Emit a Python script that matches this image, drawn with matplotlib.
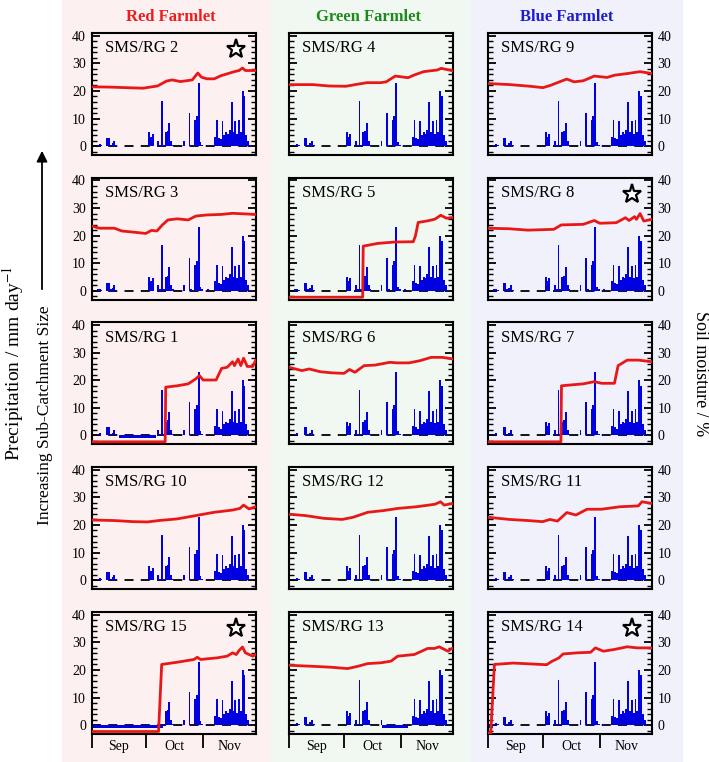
import matplotlib
matplotlib.use('Agg')
import matplotlib.pyplot as plt
from matplotlib.patches import Rectangle, FancyArrowPatch
from matplotlib.ticker import MultipleLocator, FixedLocator, NullFormatter, FixedFormatter

plt.rcParams['font.family'] = 'serif'
plt.rcParams['font.serif'] = ['Liberation Serif', 'DejaVu Serif']
plt.rcParams['mathtext.fontset'] = 'stix'

# farmlet columns
farmlets = ['Red Farmlet', 'Green Farmlet', 'Blue Farmlet']
farmlet_colors = ['#ee1c1c', '#1e8a1e', '#1c1cd0']
bg_colors = ['#fdf0f0', '#f1f8f1', '#f1f1fc']

# panel layout (rows top -> bottom, columns red/green/blue)
grid = [[2, 4, 9], [3, 5, 8], [1, 6, 7], [10, 12, 11], [15, 13, 14]]
starred = [2, 8, 15, 14]

month_labels = ['Sep', 'Oct', 'Nov']
month_starts = [0, 30, 61]
month_mids = [15, 45.5, 75.5]

# daily precipitation (mm/day), day 0 = 1 Sep
rain = [0, 0, 0, 0.5, 0.8, 0.3, 0, 0, 3, 3,
        0.5, 1, 2, 0.3, 0, 0, 0, 0, 0, 0,
        0, 0, 0, 0, 0, 0, 0, 0, 0, 0,
        0, 5, 3.5, 4.5, 0, 0, 2, 0.5, 16.5, 0.5,
        5, 5.5, 8.5, 2, 0.5, 0, 0, 0, 0, 0,
        2, 0, 0, 12, 0.5, 0, 9.5, 11, 23, 1.5,
        0.5, 0, 0, 0.5, 0, 0, 0, 3.5, 9.5, 3,
        2.5, 9, 4, 5, 4.5, 6, 16, 5, 9, 4.5,
        9.5, 5, 20, 18, 4, 2, 0.3, 0, 0, 6]

# days with missing rain gauge record (drawn as -1)
rain_gaps = {1: (15, 35), 13: (51, 65), 14: (0, 3), 15: (0, 39)}

# soil moisture (%) as (day, value) vertices
sm_rg2 = [(0, 21.5), (10, 21.4), (19, 21.2), (28, 21.0), (36, 21.8), (41, 23.6), (44, 24.0),
          (48.5, 23.4), (55, 24.0), (58, 26.5), (60, 25.0), (63, 24.4), (67, 24.4), (70.5, 25.5),
          (74, 26.2), (78, 27.0), (80.5, 27.4), (82.4, 28.3), (84, 27.4), (89.5, 27.4)]
sm_rg4 = [(0, 22.3), (13, 22.3), (22, 21.8), (31, 21.7), (37, 22.4), (42.5, 23.0), (50, 23.0),
          (53, 23.3), (58, 25.4), (65, 24.8), (68, 25.7), (73.5, 27.0), (81, 27.6), (83, 28.2),
          (89.5, 27.3)]
sm_rg9 = [(0, 22.7), (12, 22.3), (23, 21.7), (30, 21.2), (34, 22.0), (39, 23.3), (43, 24.3),
          (47, 23.3), (52, 23.7), (58, 25.4), (65, 24.9), (69, 25.7), (76, 26.3), (83, 27.0),
          (89.5, 26.3)]
sm_rg3 = [(0, 23.5), (4.4, 22.7), (12.5, 22.7), (16.5, 21.7), (22.6, 21.3), (29.6, 20.8),
          (32.7, 21.9), (35.7, 21.7), (38.7, 23.9), (41.7, 25.7), (46.8, 26.1), (52.8, 25.7),
          (56.9, 27.1), (62.9, 27.5), (71, 27.7), (77, 28.1), (89.5, 27.7)]
sm_rg5 = [(0, -2.3), (40.2, -2.3), (40.5, 16.2), (48.5, 17.2), (57.7, 17.7), (67.8, 17.8),
          (69, 19.9), (70.5, 24.8), (76, 25.4), (79.7, 26.0), (82.8, 27.4), (86, 26.3), (89.5, 26.6)]
sm_rg8 = [(0, 22.7), (11.7, 22.5), (21.8, 22.0), (35.9, 22.3), (40, 23.9), (52, 24.1), (58, 25.5),
          (61, 24.5), (70, 24.7), (75, 26.5), (77, 25.5), (80, 26.9), (81, 25.9), (83, 28.0),
          (85, 25.3), (89.5, 25.9)]
sm_rg1 = [(0, -2.3), (40.2, -2.3), (40.5, 17.5), (46.8, 18.0), (52.8, 18.7), (56.9, 20.5),
          (58.9, 21.7), (60.9, 20.1), (68, 20.1), (71, 24.3), (74, 24.7), (77, 26.7), (78, 25.3),
          (80, 27.7), (81.5, 25.3), (83, 28.0), (85, 25.0), (88, 25.0), (89.5, 27.1)]
sm_rg6 = [(0, 24.7), (7, 23.5), (11, 24.1), (17, 23.1), (23, 22.7), (30, 22.5), (33, 23.9),
          (36, 22.9), (41, 25.3), (47, 25.5), (55, 26.5), (59, 26.3), (65.5, 26.3), (71.5, 27.1),
          (77.6, 28.3), (83.7, 28.3), (89.5, 27.7)]
sm_rg7 = [(0, -2.3), (39.8, -2.3), (40.1, 18.0), (52, 18.7), (58, 19.5), (62, 18.9), (69, 18.9),
          (71, 25.3), (76, 27.3), (82, 27.3), (89.5, 26.7)]
sm_rg10 = [(0, 21.8), (12.5, 21.6), (22.6, 21.2), (30.6, 21.1), (36.7, 21.6), (46.8, 22.2),
           (56.9, 23.4), (67, 24.6), (77, 25.4), (81, 26.0), (83, 27.2), (86, 25.8), (89.5, 26.6)]
sm_rg12 = [(0, 23.9), (9, 23.4), (19, 22.4), (29, 22.0), (35, 22.8), (43, 24.6), (51.4, 25.2),
           (59.5, 26.0), (69.6, 26.6), (79.6, 27.5), (82.7, 28.4), (84.7, 27.2), (89.5, 27.8)]
sm_rg11 = [(0, 22.8), (11.7, 22.0), (21.8, 21.6), (29.8, 21.2), (33.9, 22.0), (37.9, 21.4),
           (43, 24.5), (48, 23.6), (54, 25.7), (62, 25.7), (72, 26.6), (82, 26.9), (84, 28.4),
           (89.5, 27.8)]
sm_rg15 = [(0, -2.3), (36.6, -2.3), (38.3, 22.0), (46.7, 22.8), (55.9, 23.8), (57.7, 24.6),
           (59.5, 23.8), (68.7, 24.4), (74, 25.0), (77, 26.2), (79, 25.6), (80.6, 27.1),
           (82.4, 28.3), (84, 26.2), (88, 25.0), (89.5, 25.6)]
sm_rg13 = [(0, 21.7), (13.7, 21.3), (22.8, 21.0), (32, 20.5), (37.4, 21.3), (42.9, 22.3),
           (50.2, 22.6), (55.7, 23.2), (59.3, 25.0), (68.4, 25.6), (75.7, 27.8), (79.4, 27.8),
           (82, 28.4), (86.7, 26.8), (89.5, 28.0)]
sm_rg14 = [(0, -2.8), (1.5, -2.8), (3.5, 22.0), (13.7, 22.5), (22.9, 22.2), (32, 21.9),
           (34.8, 23.1), (38.5, 24.3), (41, 25.8), (48.5, 26.2), (56, 26.4), (58.6, 28.0),
           (63, 26.8), (68.7, 27.4), (76, 28.4), (81.5, 28.0), (89.5, 28.0)]

soil = {1: sm_rg1, 2: sm_rg2, 3: sm_rg3, 4: sm_rg4, 5: sm_rg5, 6: sm_rg6, 7: sm_rg7, 8: sm_rg8,
        9: sm_rg9, 10: sm_rg10, 11: sm_rg11, 12: sm_rg12, 13: sm_rg13, 14: sm_rg14, 15: sm_rg15}

W, H = 709, 762
fig = plt.figure(figsize=(W / 100, H / 100), dpi=100)

# column backgrounds
bg_edges = [62, 271, 471, 682]
for c in range(3):
    fig.add_artist(Rectangle((bg_edges[c] / W, 0), (bg_edges[c + 1] - bg_edges[c]) / W, 1,
                             transform=fig.transFigure, color=bg_colors[c], zorder=0))

ax_left = [91.5, 289, 488]
ax_top = [33, 177.7, 322.3, 467, 612]
ax_w, ax_h = 164, 122

for r, row in enumerate(grid):
    for c, rg in enumerate(row):
        ax = fig.add_axes([ax_left[c] / W, 1 - (ax_top[r] + ax_h) / H, ax_w / W, ax_h / H])
        ax.set_facecolor('none')
        ax.set_xlim(0, 89.5)
        ax.set_ylim(-3.2, 41)

        vals = list(rain)
        if rg in rain_gaps:
            a, b = rain_gaps[rg]
            for d in range(a, b):
                vals[d] = -1
        ax.axhline(0, color='black', lw=1.3, ls=(0, (5, 4)), zorder=1)
        ax.bar(range(len(vals)), vals, width=1.0, align='edge', color='#0000e0', lw=0, zorder=2)

        days = [p[0] for p in soil[rg]]
        sm = [p[1] for p in soil[rg]]
        ax.plot(days, sm, color='#e81818', lw=2, zorder=3)

        ax.text(0.08, 0.875, 'SMS/RG %d' % rg, transform=ax.transAxes, fontsize=12,
                va='center', ha='left')
        if rg in starred:
            ax.plot([0.88], [0.865], marker='*', ms=14, mfc='white', mec='black', mew=1.6,
                    transform=ax.transAxes)

        for s in ax.spines.values():
            s.set_linewidth(1.5)
        ax.yaxis.set_major_locator(MultipleLocator(10))
        ax.yaxis.set_minor_locator(MultipleLocator(2))
        ax.tick_params(axis='y', which='both', direction='in', left=True, right=True,
                       labelleft=(c == 0), labelright=(c == 2), labelsize=10, pad=4)
        ax.tick_params(axis='y', which='major', length=6, width=1.3)
        ax.tick_params(axis='y', which='minor', length=3.5, width=1.0)

        if r == len(grid) - 1:
            ax.xaxis.set_major_locator(FixedLocator(month_starts))
            ax.xaxis.set_major_formatter(NullFormatter())
            ax.xaxis.set_minor_locator(FixedLocator(month_mids))
            ax.xaxis.set_minor_formatter(FixedFormatter(month_labels))
            ax.tick_params(axis='x', which='major', direction='out', length=10, width=1.3)
            ax.tick_params(axis='x', which='minor', length=0, labelsize=10, pad=4)
        else:
            ax.set_xticks([])

# column titles
for c in range(3):
    fig.text((ax_left[c] + 79) / W, 1 - 17 / H, farmlets[c], color=farmlet_colors[c],
             fontsize=12, fontweight='bold', ha='center', va='center')

fig.text(13 / W, 1 - 363 / H, 'Precipitation / mm day$^{-1}$', rotation=90,
         fontsize=14, ha='center', va='center')
fig.text(45 / W, 1 - 415 / H, 'Increasing Sub-Catchment Size', rotation=90,
         fontsize=12.5, ha='center', va='center')
fig.add_artist(FancyArrowPatch((42 / W, 1 - 292 / H), (42 / W, 1 - 148 / H),
                               transform=fig.transFigure, arrowstyle='-|>',
                               mutation_scale=16, lw=1.3, color='black'))
fig.text(700 / W, 1 - 374 / H, 'Soil moisture / %', rotation=270,
         fontsize=13, ha='center', va='center')

fig.savefig('out.png', dpi=100)
